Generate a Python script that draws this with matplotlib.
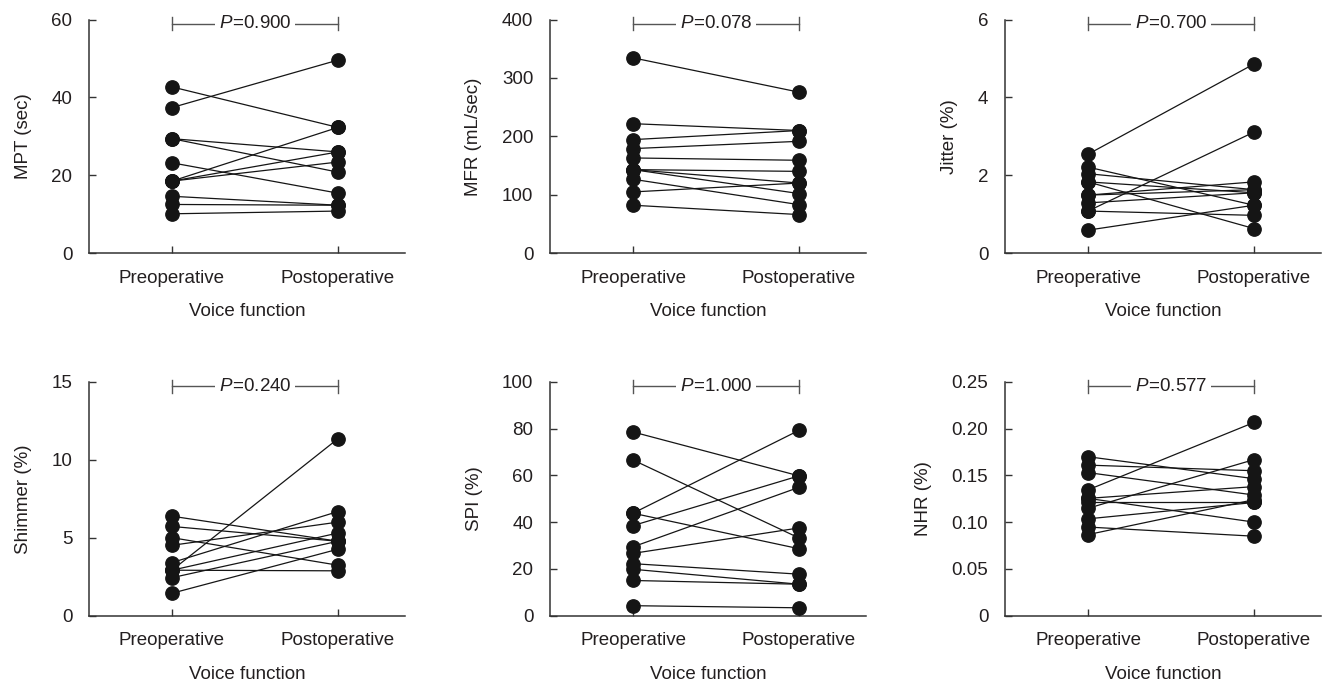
import matplotlib
matplotlib.use("Agg")
import matplotlib.pyplot as plt

plt.rcParams['font.family'] = ['Liberation Sans', 'DejaVu Sans']
plt.rcParams['mathtext.fontset'] = 'custom'
plt.rcParams['mathtext.rm'] = 'Liberation Sans'
plt.rcParams['mathtext.it'] = 'Liberation Sans:italic'

groups = ["Preoperative", "Postoperative"]
xlabel = "Voice function"

mpt_pre  = [42.7, 37.4, 29.4, 29.4, 23.2, 18.5, 18.5, 18.5, 14.6, 12.5, 10.1]
mpt_post = [32.3, 49.6, 26.0, 20.8, 15.4, 32.3, 26.0, 23.4, 12.3, 12.3, 10.8]

mfr_pre  = [334.5, 221.7, 194.4, 179.0, 163.0, 143.0, 143.0, 143.0, 126.5, 104.8, 82.0]
mfr_post = [275.7, 210.0, 210.0, 191.5, 159.0, 140.0, 120.0, 102.0, 83.0, 120.0, 66.0]

jit_pre  = [2.54, 2.21, 2.04, 1.83, 1.83, 1.49, 1.49, 1.29, 1.08, 1.08, 0.59]
jit_post = [4.86, 1.23, 1.63, 0.63, 1.55, 1.83, 1.63, 1.55, 3.11, 0.97, 1.23]

shim_pre  = [6.38, 5.72, 5.00, 4.51, 3.40, 2.91, 2.91, 2.91, 2.43, 1.43]
shim_post = [4.77, 4.77, 3.23, 6.00, 6.68, 11.36, 2.87, 5.30, 4.77, 4.26]

spi_pre  = [78.6, 66.6, 43.8, 43.8, 38.5, 29.4, 26.6, 22.2, 19.8, 15.0, 4.2]
spi_post = [59.8, 33.2, 79.3, 28.6, 59.8, 54.9, 37.5, 17.7, 13.4, 13.4, 3.3]

nhr_pre  = [0.170, 0.161, 0.153, 0.1345, 0.1254, 0.1254, 0.121, 0.1148, 0.1035, 0.0947, 0.0866]
nhr_post = [0.1465, 0.155, 0.129, 0.2067, 0.138, 0.100, 0.121, 0.1669, 0.121, 0.0849, 0.124]

panels = [
    ("MPT (sec)", mpt_pre, mpt_post, "0.900", [0, 20, 40, 60], ["0", "20", "40", "60"]),
    ("MFR (mL/sec)", mfr_pre, mfr_post, "0.078", [0, 100, 200, 300, 400], ["0", "100", "200", "300", "400"]),
    ("Jitter (%)", jit_pre, jit_post, "0.700", [0, 2, 4, 6], ["0", "2", "4", "6"]),
    ("Shimmer (%)", shim_pre, shim_post, "0.240", [0, 5, 10, 15], ["0", "5", "10", "15"]),
    ("SPI (%)", spi_pre, spi_post, "1.000", [0, 20, 40, 60, 80, 100], ["0", "20", "40", "60", "80", "100"]),
    ("NHR (%)", nhr_pre, nhr_post, "0.577", [0, 0.05, 0.10, 0.15, 0.20, 0.25], ["0", "0.05", "0.10", "0.15", "0.20", "0.25"]),
]

W, H = 1325, 690
fig = plt.figure(figsize=(W / 100, H / 100), dpi=100)

col_left = [89, 550, 1005]
row_top = [19.6, 382]
ax_w, ax_h = 316, 233.5
tick0_off = 83
tick_sp = 166

txt_color = '#231f20'
for i, (ylab, pre, post, pval, yt, ytl) in enumerate(panels):
    r, c = divmod(i, 3)
    left = col_left[c] / W
    bottom = 1 - (row_top[r] + ax_h) / H
    ax = fig.add_axes([left, bottom, ax_w / W, ax_h / H])
    for p0, p1 in zip(pre, post):
        ax.plot([0, 1], [p0, p1], color='#151515', lw=0.9, marker='o', ms=9.6,
                mfc='#151515', mec='#151515', clip_on=False, zorder=3)
    ax.set_xlim(-tick0_off / tick_sp, (ax_w - tick0_off) / tick_sp)
    ax.set_ylim(yt[0], yt[-1])
    ax.set_yticks(yt)
    ax.set_yticklabels(ytl)
    ax.set_xticks([0, 1])
    ax.set_xticklabels(groups)
    for s in ['top', 'right']:
        ax.spines[s].set_visible(False)
    for s in ['left', 'bottom']:
        ax.spines[s].set_linewidth(1.1)
        ax.spines[s].set_color('#333333')
    ax.tick_params(direction='in', length=5, width=1.0, color='#333333',
                   labelsize=13.5, pad=12, labelcolor=txt_color)
    ax.set_xlabel(xlabel, fontsize=13.5, labelpad=12, color=txt_color)
    ax.set_ylabel(ylab, fontsize=13.5, labelpad=14, color=txt_color)
    # P-value bracket
    tr = ax.get_xaxis_transform()
    yb = 0.982
    ax.plot([0, 1], [yb, yb], transform=tr, color='#555555', lw=1.0, clip_on=False)
    ax.plot([0, 0], [yb - 0.027, yb + 0.027], transform=tr, color='#555555', lw=1.0, clip_on=False)
    ax.plot([1, 1], [yb - 0.027, yb + 0.027], transform=tr, color='#555555', lw=1.0, clip_on=False)
    ax.text(0.5, yb, r"$P\!=\!$" + pval, transform=tr, ha='center', va='center',
            fontsize=13.5, color=txt_color,
            bbox=dict(facecolor='white', edgecolor='none', pad=3))

fig.savefig("out.png", dpi=100, facecolor='white')
